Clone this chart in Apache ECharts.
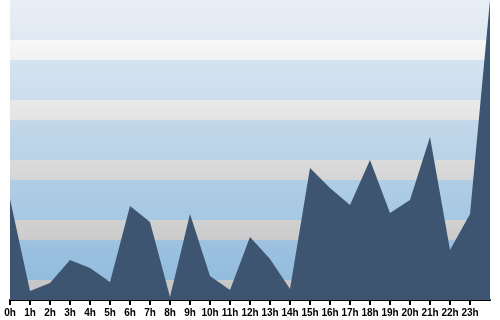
<!DOCTYPE html>
<html>
<head>
<meta charset="utf-8">
<script src="https://cdn.jsdelivr.net/npm/echarts@6/dist/echarts.min.js"></script>
<style>html,body{margin:0;padding:0;background:#fff}#c{width:500px;height:320px}</style>
</head>
<body>
<div id="c"></div>
<script>
var categories = ['0h','1h','2h','3h','4h','5h','6h','7h','8h','9h','10h','11h','12h','13h','14h','15h','16h','17h','18h','19h','20h','21h','22h','23h',''];
var values = [101, 9, 17, 40, 32, 18, 94, 78, 3, 86, 24, 10, 63, 41, 11, 132, 112, 95, 140, 87, 100, 163, 50, 86, 300];
var bandFrom = [0, 20, 60, 80, 120, 140, 180, 200, 240, 260];
var bandTo   = [20, 60, 80, 120, 140, 180, 200, 240, 260, 300];
var bandTop    = ['#c8c8c8', '#9ec2e0', '#d1d1d1', '#b0cde5', '#dbdbdb', '#c3d8e9', '#e9e9e9', '#d5e3f0', '#f7f7f7', '#e9eff7'];
var bandBottom = ['#c3c3c3', '#93bcdd', '#cbcbcb', '#a6c8e3', '#d5d5d5', '#b9d3e8', '#e4e4e4', '#cbddee', '#f2f2f2', '#dfe8f3'];

var bands = bandFrom.map(function (f, i) {
  return [{
    yAxis: f,
    itemStyle: {
      color: new echarts.graphic.LinearGradient(0, 0, 0, 1, [
        { offset: 0, color: bandTop[i] },
        { offset: 1, color: bandBottom[i] }
      ])
    }
  }, { yAxis: bandTo[i] }];
});

var chart = echarts.init(document.getElementById('c'));
chart.setOption({
  animation: false,
  grid: { left: 10, right: 10, top: 0, bottom: 20 },
  xAxis: {
    type: 'category',
    data: categories,
    boundaryGap: false,
    axisLine: { lineStyle: { color: '#000', width: 2 } },
    axisTick: {
      length: 5,
      lineStyle: { color: '#000', width: 2 },
      interval: function (i, v) { return v !== ''; }
    },
    axisLabel: {
      interval: 0,
      color: '#000',
      fontSize: 10,
      fontWeight: 'bold',
      fontFamily: 'Liberation Sans, Arial, sans-serif',
      margin: 8
    },
    splitLine: { show: false }
  },
  yAxis: {
    type: 'value', min: 0, max: 300, show: false,
    splitLine: { show: false }
  },
  series: [
    {
      type: 'line',
      data: [],
      z: 1,
      silent: true,
      markArea: { silent: true, data: bands }
    },
    {
      type: 'line',
      data: values,
      z: 5,
      symbol: 'none',
      lineStyle: { width: 0, color: '#3d5571' },
      itemStyle: { color: '#3d5571' },
      areaStyle: { color: '#3d5571', opacity: 1 }
    }
  ]
});
</script>
</body>
</html>
